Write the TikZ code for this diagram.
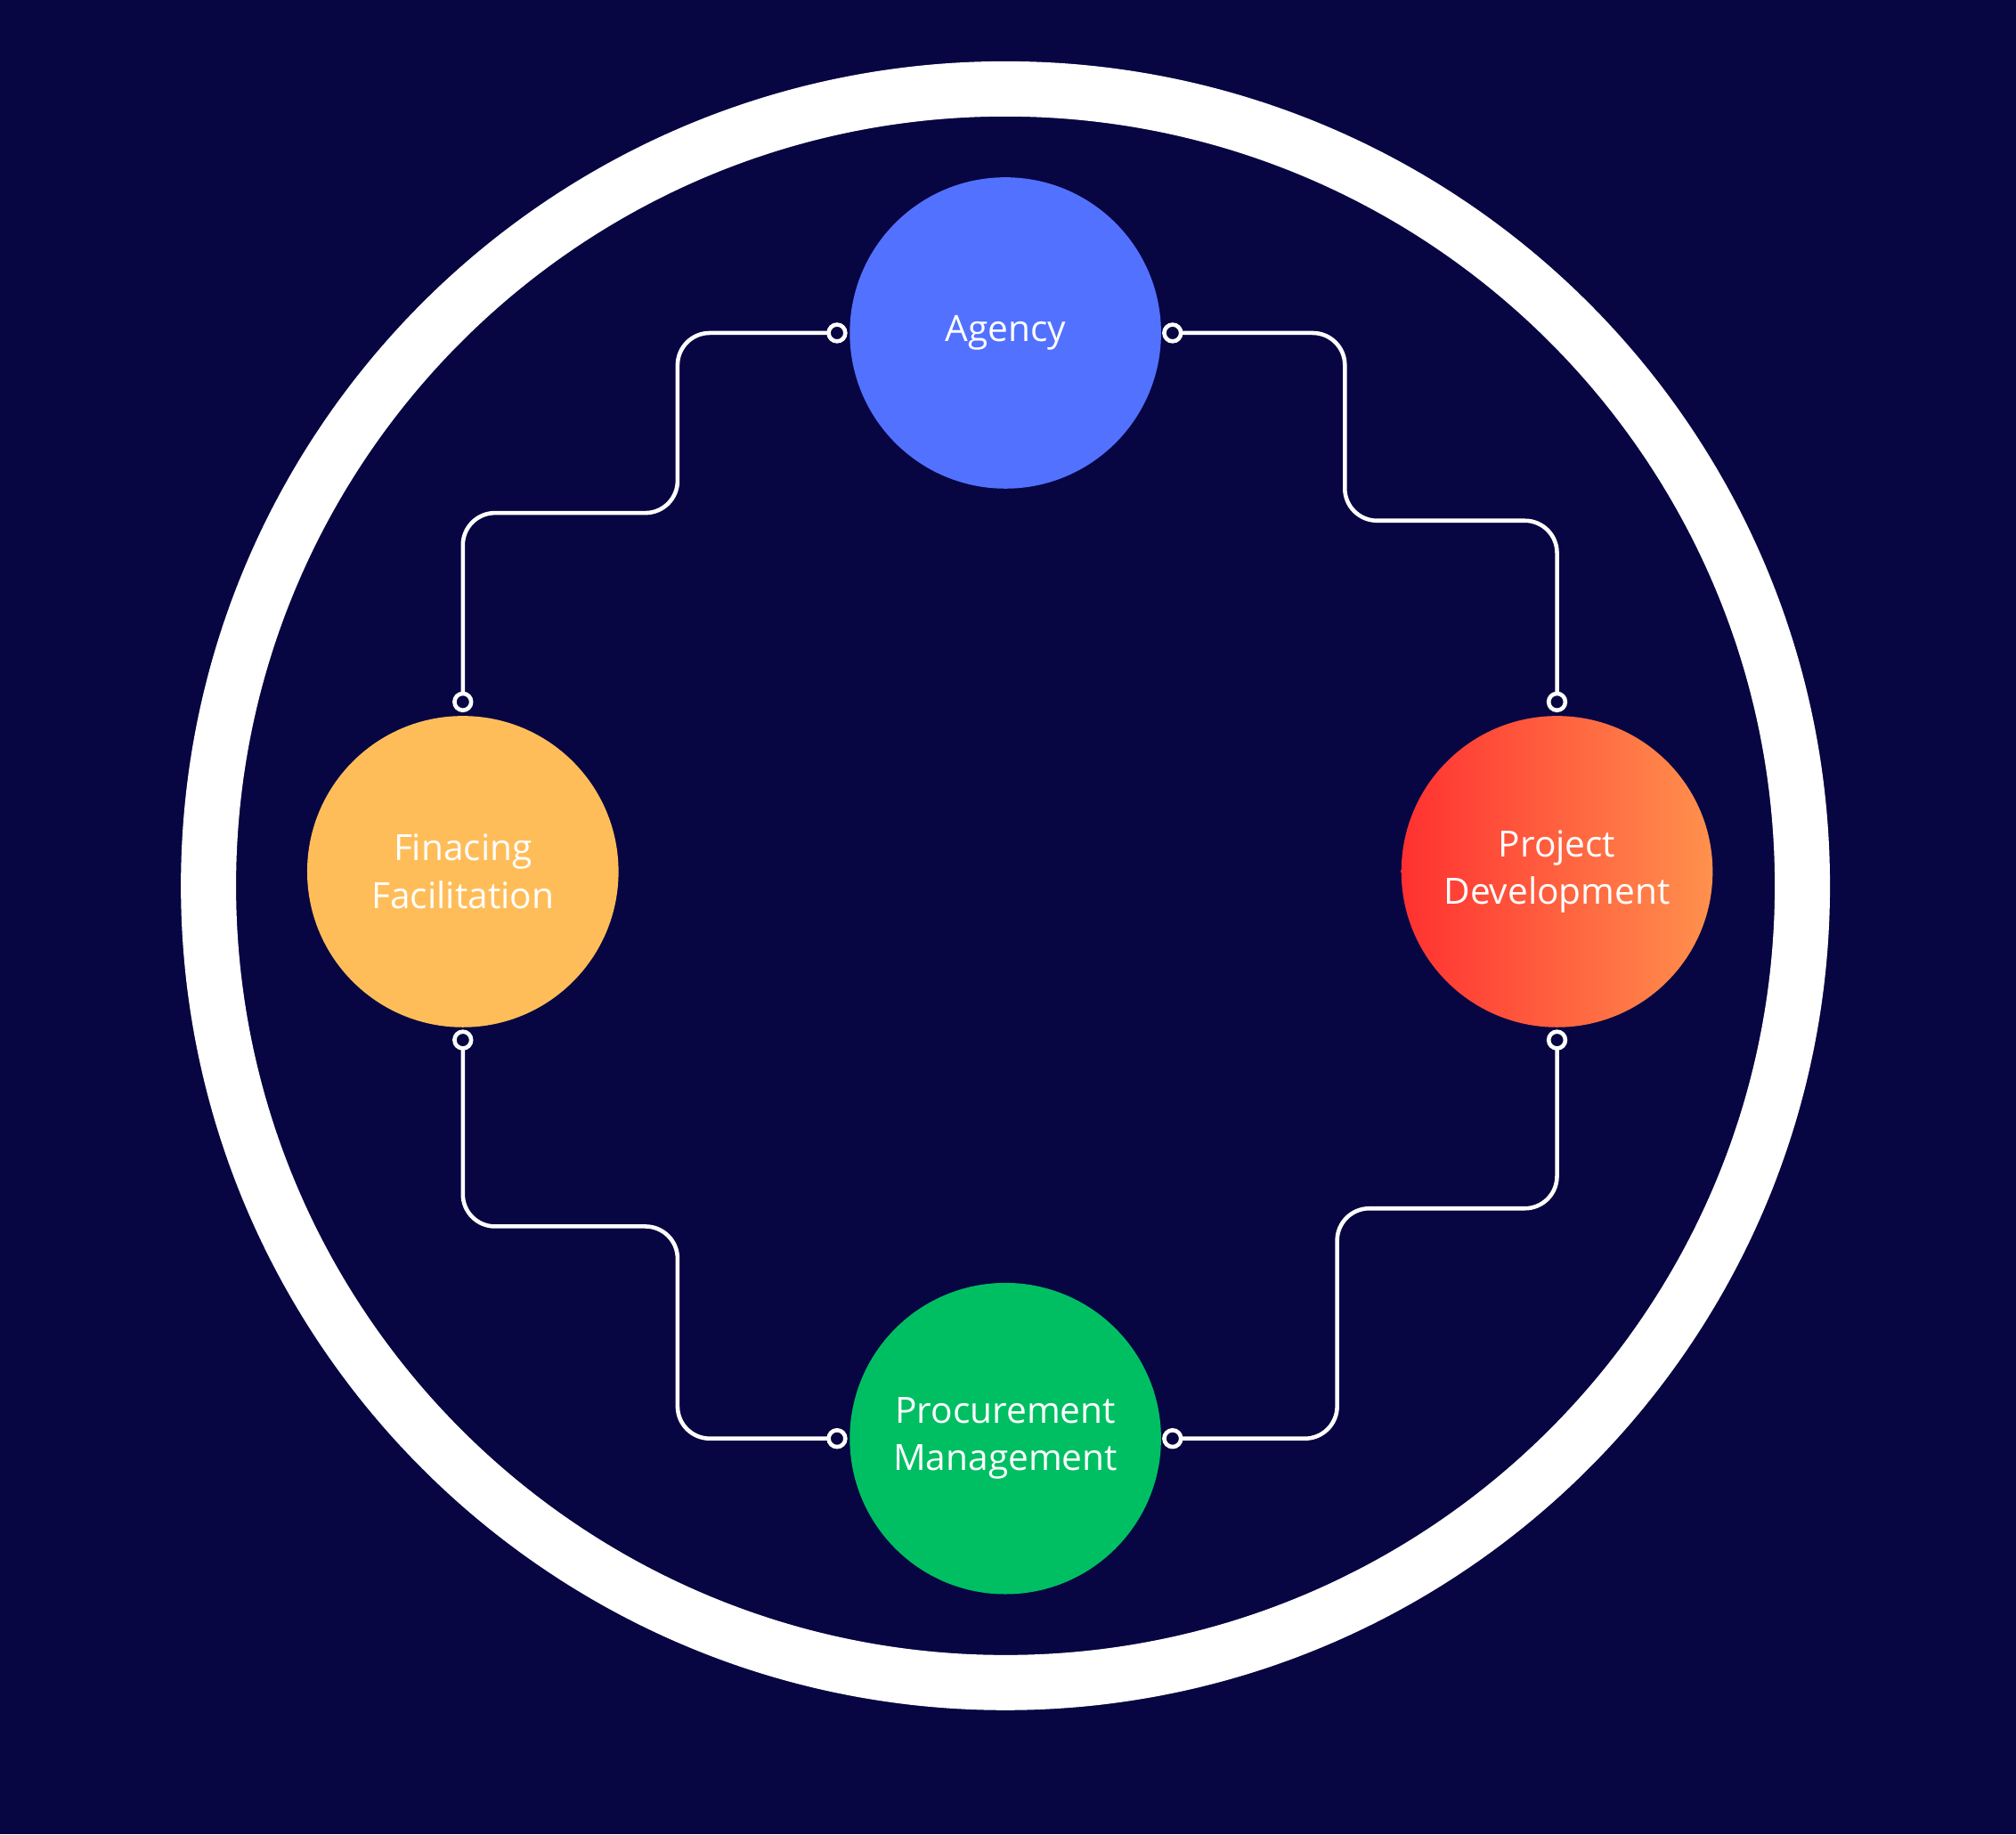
\documentclass[tikz,border=0pt]{standalone}
\usepackage{fontspec}
\setmainfont{Open Sans}
\begin{document}
\begin{tikzpicture}[x=0.01cm,y=-0.01cm,
  bub/.style={circle,minimum size=2.42cm,inner sep=0pt,align=center,text=white,font=\fontsize{8}{10.5}\selectfont},
  link/.style={draw=white,line width=0.9pt,rounded corners=0.25cm},
  dot/.style={circle,draw=white,fill=navy,line width=0.9pt,minimum size=0.13cm,inner sep=0pt}]
\definecolor{navy}{HTML}{070642}
\fill[navy] (0,0) rectangle (1568,1427);
\useasboundingbox (0,0) rectangle (1568,1427);
\draw[white,line width=12.2pt] (782,689) circle (6.195cm);
\node[bub,fill={rgb,255:red,82;green,113;blue,255}] (ag) at (782,259) {Agency};
\node[bub,fill={rgb,255:red,255;green,189;blue,89}] (fi) at (360,678) {Finacing\\Facilitation};
\node[bub,left color={rgb,255:red,255;green,49;blue,49},right color={rgb,255:red,255;green,145;blue,77}] (pd) at (1211,678) {Project\\Development};
\node[bub,fill={rgb,255:red,0;green,191;blue,99}] (pm) at (782,1119) {Procurement\\Management};
\coordinate (a1) at (651,259); \coordinate (a2) at (912,259);
\coordinate (f1) at (360,546); \coordinate (f2) at (360,809);
\coordinate (p1) at (1211,546); \coordinate (p2) at (1211,809);
\coordinate (m1) at (651,1119); \coordinate (m2) at (912,1119);
\draw[link] (a1) -- (527,259) -- (527,399) -- (360,399) -- (f1);
\draw[link] (a2) -- (1046,259) -- (1046,405) -- (1211,405) -- (p1);
\draw[link] (f2) -- (360,954) -- (527,954) -- (527,1119) -- (m1);
\draw[link] (p2) -- (1211,940) -- (1040,940) -- (1040,1119) -- (m2);
\foreach \c in {a1,a2,f1,f2,p1,p2,m1,m2} \node[dot] at (\c) {};
\end{tikzpicture}
\end{document}
